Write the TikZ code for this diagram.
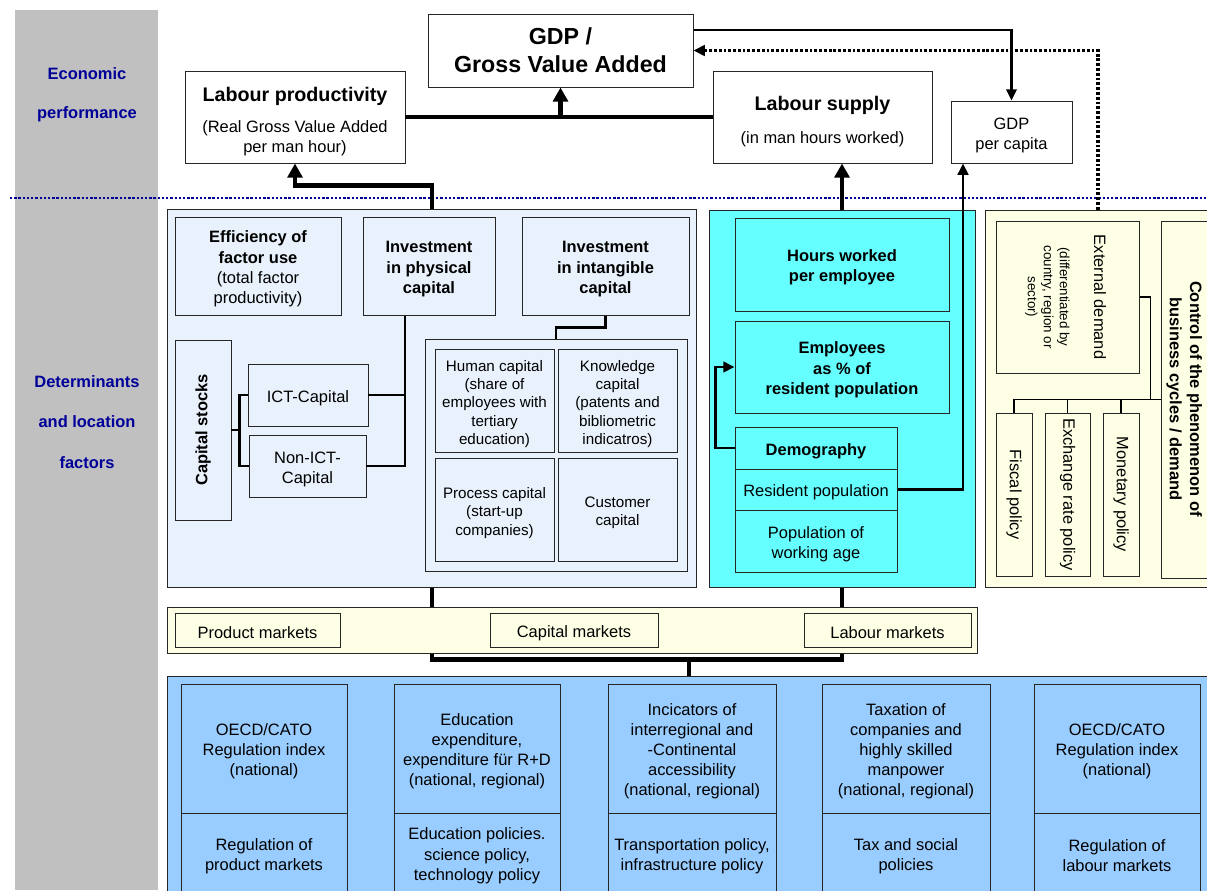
\documentclass[tikz,border=0pt]{standalone}
\usepackage{fontspec}
\setmainfont{Liberation Sans}
\usetikzlibrary{arrows.meta,calc}

\definecolor{sidegray}{RGB}{192,192,192}
\definecolor{labelblue}{RGB}{0,0,153}
\definecolor{capblue}{RGB}{233,242,252}
\definecolor{labcyan}{RGB}{102,255,255}
\definecolor{demcream}{RGB}{255,255,230}
\definecolor{polblue}{RGB}{153,204,255}

\newcommand{\gdpfont}{\bfseries\fontsize{16.5}{20}\selectfont}
\newcommand{\topfont}{\bfseries\fontsize{14}{17}\selectfont}
\newcommand{\innerfont}{\fontsize{10.8}{13}\selectfont}
\newcommand{\notefont}{\fontsize{9.5}{11.4}\selectfont}
\newcommand{\firstline}{\rule{0pt}{12.5pt}}

\tikzset{
  every node/.style={font=\fontsize{11.7}{14.3}\selectfont},
  boxline/.style={draw=black!85, line width=0.7pt, inner sep=0pt, align=center},
  box/.style={boxline, execute at begin node={\firstline}},
  boxat/.style n args={4}{minimum width={(#3-#1)*0.025cm}, minimum height={(#4-#2)*0.025cm}, at={({(#1+#3)/2},{(#2+#4)/2})}},
  sidelabel/.style={text=labelblue, font=\bfseries\fontsize{11.7}{14.3}\selectfont},
  bigline/.style={line width=3pt},
  midline/.style={line width=1.9pt},
  thinline/.style={line width=1pt},
  bigtip/.style={-{Triangle[width=10.5pt,length=10pt]}},
  midtip/.style={-{Triangle[width=7.5pt,length=8pt]}},
}

\begin{document}
\begin{tikzpicture}[x=0.025cm, y=-0.025cm]
		%%%%% START %%%%%
		\useasboundingbox (0,0) rectangle (1207,890);
		
		% side column
		\fill[sidegray] (15,10) rectangle (158,890);
		\node[sidelabel] (econ1) at (87,74) {Economic};
		\node[sidelabel] (econ2) at (87,114) {performance};
		\node[sidelabel] (det1) at (87,382) {Determinants};
		\node[sidelabel] (det2) at (87,422) {and location};
		\node[sidelabel] (det3) at (87,463) {factors};
		
		% panels
		\node[boxline, fill=capblue, boxat={167}{209}{696}{587}] (capp) {};
		\node[boxline, fill=labcyan, boxat={709}{210}{975}{587}] (labp) {};
		\node[boxline, fill=demcream, boxat={985}{210}{1220}{587}] (demp) {};
		\node[boxline, fill=demcream, boxat={167}{607}{977}{653}] (mktp) {};
		\node[boxline, fill=polblue, boxat={167}{676}{1220}{900}] (polp) {};
		
		\draw[labelblue, line width=1.7pt, dash pattern=on 1.7pt off 1.3pt] (10,198) -- (1207,198);
		
		% economic performance
		\node[boxline, fill=white, font=\gdpfont, boxat={428}{14}{693}{87}] (gdp) {GDP /\\Gross Value Added};
		\node[boxline, fill=white, boxat={185}{71}{405}{163}] (lp) {\rule{0pt}{17pt}{\topfont Labour productivity}\\[7.5pt](Real Gross Value Added\\per man hour)};
		\node[boxline, fill=white, boxat={713}{71}{932}{163}] (ls) {\rule{0pt}{17pt}{\topfont Labour supply}\\[9pt](in man hours worked)};
		\node[box, fill=white, boxat={951}{101}{1072}{163}] (pc) {\firstline GDP\\per capita};
		
		% capital
		\node[box, fill=capblue, boxat={175}{217}{341}{315}] (eff) {\firstline\textbf{Efficiency of}\\\textbf{factor use}\\(total factor\\productivity)};
		\node[box, fill=capblue, boxat={363}{217}{495}{315}] (phys) {\firstline\textbf{Investment}\\\textbf{in physical}\\\textbf{capital}};
		\node[box, fill=capblue, boxat={522}{217}{689}{315}] (intg) {\firstline\textbf{Investment}\\\textbf{in intangible}\\\textbf{capital}};
		\node[boxline, fill=capblue, boxat={175}{340}{231}{520}] (capst) {\rotatebox{90}{\textbf{Capital stocks}}};
		\node[box, fill=capblue, boxat={248}{364}{368}{426}] (ict) {ICT-Capital};
		\node[box, fill=capblue, boxat={249}{435}{366}{497}] (nict) {\firstline Non-ICT-\\Capital};
		\node[boxline, fill=capblue, boxat={425}{339}{687}{571}] (intc) {};
		\node[box, fill=capblue, font=\innerfont, boxat={435}{349}{554}{452}] (hum) {\firstline Human capital\\(share of\\employees with\\tertiary\\education)};
		\node[box, fill=capblue, font=\innerfont, boxat={558}{349}{677}{452}] (know) {\firstline Knowledge\\capital\\(patents and\\bibliometric\\indicatros)};
		\node[box, fill=capblue, font=\innerfont, boxat={435}{458}{554}{561}] (proc) {\firstline Process capital\\(start-up\\companies)};
		\node[box, fill=capblue, font=\innerfont, boxat={558}{458}{677}{561}] (cust) {\firstline Customer\\capital};
		
		% labour
		\node[box, fill=labcyan, boxat={735}{218}{949}{311}] (hours) {\firstline\textbf{Hours worked}\\\textbf{per employee}};
		\node[box, fill=labcyan, boxat={735}{321}{949}{413}] (emp) {\firstline\textbf{Employees}\\\textbf{as \% of}\\\textbf{resident population}};
		\node[box, fill=labcyan, boxat={735}{427}{897}{469}] (demo) {\textbf{Demography}};
		\node[box, fill=labcyan, boxat={735}{469}{897}{510}] (resp) {Resident population};
		\node[box, fill=labcyan, boxat={735}{510}{897}{572}] (work) {\firstline Population of\\working age};
		
		% demand
		\node[boxline, fill=demcream, boxat={996}{221}{1139}{373}] (ext) {};
		\node (ext-a) at (1100,297) {\rotatebox{-90}{External demand}};
		\node[font=\notefont] (ext-b) at (1047,297) {\rotatebox{-90}{\begin{tabular}{@{}c@{}}(differentiated by\\country, region or\\sector)\end{tabular}}};
		\node[boxline, fill=demcream, boxat={1161}{221}{1220}{578}] (ctrl) {};
		\node[font=\bfseries\fontsize{11.7}{14.3}\selectfont] (ctrl-t) at (1184,399) {\rotatebox{-90}{\begin{tabular}{@{}c@{}}Control of the phenomenon of\\business cycles / demand\end{tabular}}};
		\node[boxline, fill=demcream, boxat={996}{413}{1032}{576}] (fisc) {\rotatebox{-90}{Fiscal policy}};
		\node[boxline, fill=demcream, boxat={1045}{413}{1090}{576}] (exch) {\rotatebox{-90}{Exchange rate policy}};
		\node[boxline, fill=demcream, boxat={1103}{413}{1139}{576}] (mon) {\rotatebox{-90}{Monetary policy}};
		
		% markets
		\node[box, fill=demcream, boxat={175}{613}{340}{647}] (prodm) {Product markets};
		\node[box, fill=demcream, boxat={490}{613}{658}{647}] (capm) {Capital markets};
		\node[box, fill=demcream, boxat={804}{613}{971}{647}] (labm) {Labour markets};
		
		% location factors
		\node[box, fill=polblue, boxat={181}{684}{347}{813}] (ind1) {\firstline OECD/CATO\\Regulation index\\(national)};
		\node[box, fill=polblue, boxat={181}{813}{347}{893}] (pol1) {\firstline Regulation of\\product markets};
		\node[box, fill=polblue, boxat={394}{684}{560}{813}] (ind2) {\firstline Education\\expenditure,\\expenditure für R+D\\(national, regional)};
		\node[box, fill=polblue, boxat={394}{813}{560}{893}] (pol2) {\firstline Education policies.\\science policy,\\technology policy};
		\node[box, fill=polblue, boxat={608}{684}{776}{813}] (ind3) {\firstline Incicators of\\interregional and\\-Continental\\accessibility\\(national, regional)};
		\node[box, fill=polblue, boxat={608}{813}{776}{893}] (pol3) {\firstline Transportation policy,\\infrastructure policy};
		\node[box, fill=polblue, boxat={822}{684}{990}{813}] (ind4) {\firstline Taxation of\\companies and\\highly skilled\\manpower\\(national, regional)};
		\node[box, fill=polblue, boxat={822}{813}{990}{893}] (pol4) {\firstline Tax and social\\policies};
		\node[box, fill=polblue, boxat={1034}{684}{1200}{813}] (ind5) {\firstline OECD/CATO\\Regulation index\\(national)};
		\node[box, fill=polblue, boxat={1034}{813}{1200}{893}] (pol5) {\firstline Regulation of\\labour markets};
		
		% connectors
		\coordinate (xl) at (432,0);
		\coordinate (xr) at (842,0);
		\coordinate (xm) at (689,0);
		\coordinate (xphys) at (405,0);
		\coordinate (xpc) at (963,0);
		\coordinate (xdot) at (1098,0);
		
		\draw[bigline] (lp.east) -- (ls.west);
		\draw[bigline, bigtip] (lp.east -| gdp.south) -- (gdp.south);
		\draw[line width=1.5pt, midtip] ($(gdp.north east)!0.22!(gdp.south east)$) -| (pc.north);
		\draw[line width=2.2pt, dash pattern=on 2pt off 1.4pt, midtip] (demp.north -| xdot) |- (gdp.east);
		
		\draw[bigline, bigtip] (capp.north -| xl) -- ++(0,-23) -| (lp.south);
		\draw[bigline, bigtip] (labp.north -| xr) -- (ls.south -| xr);
		\draw[midline, midtip] (resp.east) -| (pc.south -| xpc);
		\draw[midline, midtip] (demo.west) -- ++(-19,0) |- (emp.west);
		
		\draw[midline] (capst.east) -- ++(8,0) |- (ict.west);
		\draw[midline] (capst.east) ++(8,0) |- (nict.west);
		\draw[midline] (phys.south -| xphys) |- (nict.east);
		\draw[midline] (ict.east) -- (ict.east -| xphys);
		\draw[midline] (intg.south) -- ++(0,12) -| (intc.north);
		
		\draw[thinline] (ext.east) -- ++(11,0) |- (ctrl.west);
		\draw[thinline] (fisc.north) |- (ctrl.west);
		\draw[thinline] (exch.north) -- (exch.north |- ctrl.west);
		\draw[thinline] (mon.north) -- (mon.north |- ctrl.west);
		
		\draw[bigline] (capp.south -| xl) -- (mktp.north -| xl);
		\draw[bigline] (labp.south -| xr) -- (mktp.north -| xr);
		\draw[bigline] (mktp.south -| xl) -- ++(0,6) -| (mktp.south -| xr);
		\draw[bigline] (mktp.south -| xm) ++(0,6) -- (polp.north -| xm);
		
		%%%%% END %%%%%
\end{tikzpicture}
\end{document}
